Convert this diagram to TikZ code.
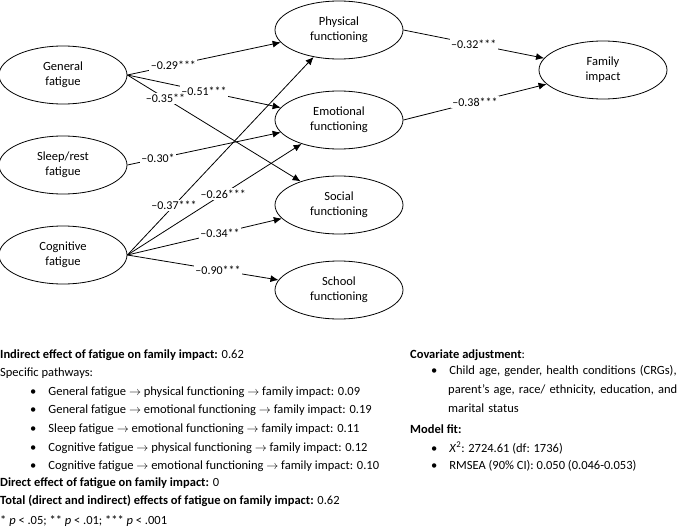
\documentclass[tikz,border=0pt]{standalone}
\usepackage{fontspec}
\setmainfont{Carlito}
\usetikzlibrary{arrows.meta,shapes.geometric}
\tikzstyle{latent}=[ellipse,draw,thick,minimum width=128pt,minimum height=58pt,inner sep=0pt,align=center,font=\fontsize{12.5}{15}\selectfont]
\tikzstyle{arr} = [draw,thick,-{Latex[length=8pt,width=7pt]}]
\tikzstyle{coef} = [fill=white,inner sep=1.5pt,font=\fontsize{12}{14}\selectfont]
\tikzstyle{txt} = [anchor=west,inner sep=0pt,font=\fontsize{12.5}{19}\selectfont]

\begin{document}
\begin{tikzpicture}[x=1pt,y=-1pt]
    \useasboundingbox (0,0) rectangle (680,530);
    \foreach \pos/\name/\val in {{(63,75)/gen/General\\fatigue},
    {(63,165)/sleep/Sleep\slash rest\\fatigue},{(63,255)/cog/Cognitive\\fatigue},
    {(339,30)/phys/Physical\\functioning},{(339,120)/emo/Emotional\\functioning},
    {(339,205)/soc/Social\\functioning},{(339,290)/sch/School\\functioning},
    {(603,70)/fam/Family\\impact}}
        \node[latent] (\name) at \pos {\val};

    \foreach \source/\dest/\weight/\p in {gen/phys/--0.29***/0.3,
    gen/emo/--0.51***/0.5,gen/soc/--0.35**/0.22,sleep/emo/--0.30*/0.2,
    cog/phys/--0.37***/0.25,cog/emo/--0.26***/0.55,cog/soc/--0.34**/0.6,
    cog/sch/--0.90***/0.6,phys/fam/--0.32***/0.5,emo/fam/--0.38***/0.5}
        \path[arr] (\source.east) -- node[coef,pos=\p] {\weight} (\dest);

    % notes
    \node[txt] (n1) at (0,355) {\textbf{Indirect effect of fatigue on family impact:} 0.62};
    \node[txt] (n2) at (0,373) {Specific pathways:};
    \foreach \y/\t in {392/General fatigue $\rightarrow$ physical functioning $\rightarrow$ family impact: 0.09,
    410/General fatigue $\rightarrow$ emotional functioning $\rightarrow$ family impact: 0.19,
    429/Sleep fatigue $\rightarrow$ emotional functioning $\rightarrow$ family impact: 0.11,
    448/Cognitive fatigue $\rightarrow$ physical functioning $\rightarrow$ family impact: 0.12,
    466/Cognitive fatigue $\rightarrow$ emotional functioning $\rightarrow$ family impact: 0.10}
        \node[txt] at (30,\y) {\textbullet\hspace{12pt}\t};
    \node[txt] (n3) at (0,483) {\textbf{Direct effect of fatigue on family impact:} 0};
    \node[txt] (n4) at (0,501) {\textbf{Total (direct and indirect) effects of fatigue on family impact:} 0.62};
    \node[txt] (n5) at (0,521) {* \textit{p} < .05; ** \textit{p} < .01; *** \textit{p} < .001};

    \node[txt] (c1) at (410,355) {\textbf{Covariate adjustment}:};
    \node[txt,anchor=north west,align=left,text width=270pt] (c2) at (431,365)
        {\textbullet\hspace{12pt}Child age, gender, health conditions (CRGs),\\
        \hspace*{17pt}parent’s age, race/ ethnicity, education, and\\
        \hspace*{17pt}marital status};
    \node[txt] (c3) at (410,429) {\textbf{Model fit:}};
    \node[txt] (c4) at (431,448) {\textbullet\hspace{12pt}\textit{X}\textsuperscript{2}: 2724.61 (df: 1736)};
    \node[txt] (c5) at (431,466) {\textbullet\hspace{12pt}RMSEA (90\% CI): 0.050 (0.046-0.053)};
\end{tikzpicture}
\end{document}
